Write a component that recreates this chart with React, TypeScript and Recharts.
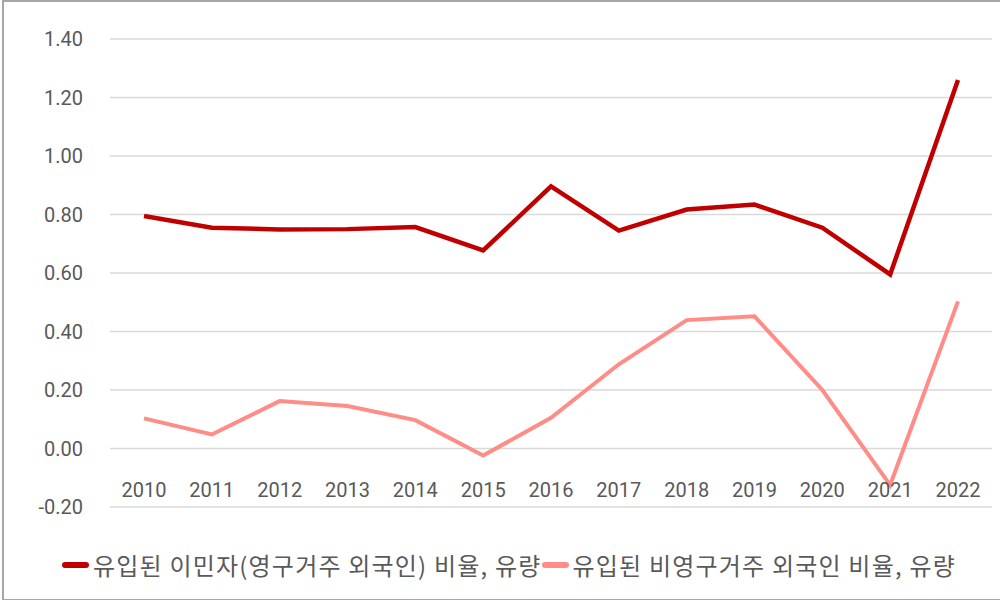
import { CartesianGrid, Legend, Line, LineChart, XAxis, YAxis } from "recharts";

const years = ["2010", "2011", "2012", "2013", "2014", "2015", "2016", "2017", "2018", "2019", "2020", "2021", "2022"];
const permanentRatio = [0.795, 0.755, 0.749, 0.75, 0.757, 0.677, 0.896, 0.745, 0.817, 0.834, 0.755, 0.595, 1.26];
const temporaryRatio = [0.103, 0.048, 0.162, 0.145, 0.097, -0.024, 0.105, 0.288, 0.439, 0.452, 0.2, -0.125, 0.503];
const yTicks = [-0.2, 0, 0.2, 0.4, 0.6, 0.8, 1.0, 1.2, 1.4];

const seriesNames = ["유입된 이민자(영구거주 외국인) 비율, 유량", "유입된 비영구거주 외국인 비율, 유량"];
const seriesColors = ["#C00000", "#FF8C86"];

const data = years.map((year, i) => ({
  year,
  permanent: permanentRatio[i],
  temporary: temporaryRatio[i],
}));

const labelColor = "#595959";

function YearTick({ x, y, payload }: any) {
  return (
    <text x={x} y={y - 12} textAnchor="middle" fill={labelColor} fontSize={20} fontFamily="Roboto">
      {payload.value}
    </text>
  );
}

function LegendRow() {
  return (
    <div style={{ display: "flex", alignItems: "center", fontFamily: "'Noto Sans CJK KR'", fontSize: 24, letterSpacing: 1.2, color: labelColor, lineHeight: "32px" }}>
      {seriesNames.map((name, i) => (
        <div key={name} style={{ display: "flex", alignItems: "center" }}>
          <span style={{ display: "inline-block", width: 27, height: 6, borderRadius: 3, background: seriesColors[i], marginRight: 4 }} />
          <span>{name}</span>
        </div>
      ))}
    </div>
  );
}

export default function App() {
  return (
    <div style={{ position: "absolute", left: 0, top: 0, width: 1000, height: 600, background: "#fff" }}>
      <LineChart width={1000} height={600} data={data} margin={{ top: 39, right: 8, bottom: 31, left: 0 }}>
        <CartesianGrid vertical={false} stroke="#D9D9D9" strokeWidth={1.5} />
        <XAxis
          dataKey="year"
          axisLine={false}
          tickLine={false}
          tickSize={0}
          height={30}
          interval={0}
          padding={{ left: 34, right: 34 }}
          tick={<YearTick />}
        />
        <YAxis
          domain={[-0.2, 1.4]}
          ticks={yTicks}
          width={110}
          axisLine={false}
          tickLine={false}
          tickSize={0}
          tickMargin={27}
          tickFormatter={(v: number) => v.toFixed(2)}
          tick={{ fill: labelColor, fontSize: 20, fontFamily: "Roboto" }}
        />
        <Legend content={<LegendRow />} wrapperStyle={{ left: 62, top: 549, width: 935 }} />
        <Line type="linear" dataKey="permanent" stroke={seriesColors[0]} strokeWidth={4.5} dot={false} isAnimationActive={false} />
        <Line type="linear" dataKey="temporary" stroke={seriesColors[1]} strokeWidth={4} dot={false} isAnimationActive={false} />
      </LineChart>
      <div style={{ position: "absolute", left: 2, top: 0, width: 1000, height: 597, borderTop: "2px solid #A6A6A6", borderLeft: "2px solid #A6A6A6", borderBottom: "2px solid #A6A6A6", pointerEvents: "none" }} />
    </div>
  );
}
